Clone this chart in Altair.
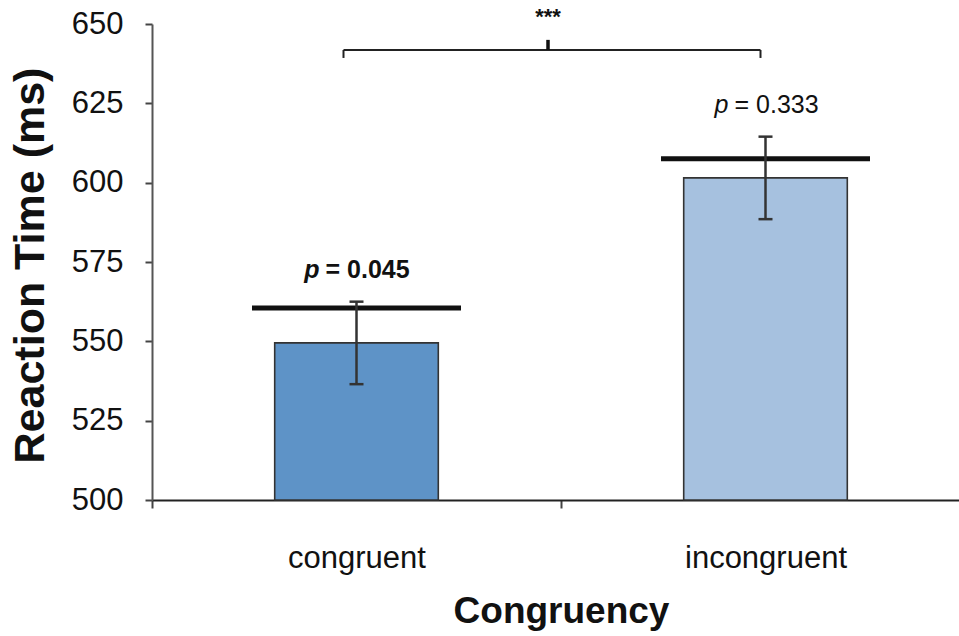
import altair as alt
import pandas as pd

# ---- data ----
categories = ["congruent", "incongruent"]
means = [549.5, 601.5]
err_low = [536.5, 588.5]
err_high = [562.5, 614.5]
ref_line = [560.5, 607.5]
p_values = ["= 0.045", "= 0.333"]
p_label_y = [572.5, 624.5]
p_weight = ["bold", "normal"]
bar_colors = ["#5e93c7", "#a6c1df"]
y_ticks = [500, 525, 550, 575, 600, 625, 650]
y_base = 500

bracket_y = 641.8
bracket_end_y = 639.3
bracket_mid_y = 645.0
stars_y = 652.3
stars = "***"

FONT = "Liberation Sans"

df = pd.DataFrame({
    "cat": categories,
    "mean": means,
    "lo": err_low,
    "hi": err_high,
    "ref": ref_line,
    "ptxt": p_values,
    "py": p_label_y,
    "pw": p_weight,
})

xscale = alt.Scale(domain=categories, range=[0, 818], paddingInner=0.6, paddingOuter=0.3)
yscale = alt.Scale(domain=[500, 650], nice=False, zero=False)

x_enc = alt.X(
    "cat:N", scale=xscale, sort=categories,
    axis=alt.Axis(
        title="Congruency", labelAngle=0, ticks=True, labelLimit=0,
        tickOffset=-204.5, labelOffset=204.5,
        labelFont=FONT, labelFontSize=31, labelColor="#111",
        labelBaseline="alphabetic", labelPadding=59,
        titleFont=FONT, titleFontSize=37, titleFontWeight="bold", titleColor="#111",
        titleX=409, titleY=122, titleBaseline="alphabetic", titleAlign="center",
        domainColor="#222", domainWidth=2, tickColor="#444", tickWidth=2, tickSize=8,
    ),
)
y_enc = alt.Y(
    "mean:Q", scale=yscale,
    axis=alt.Axis(
        title="Reaction Time (ms)", values=y_ticks, grid=False, ticks=True,
        labelFont=FONT, labelFontSize=31, labelColor="#111", labelPadding=22,
        titleFont=FONT, titleFontSize=43, titleFontWeight="bold", titleColor="#111",
        titleX=-122, titleY=241, titleAngle=-90, titleBaseline="middle", titleAlign="center",
        domainColor="#555", domainWidth=2, tickColor="#444", tickWidth=2, tickSize=7,
    ),
)

bars = alt.Chart(df).mark_bar(stroke="#333", strokeWidth=1.6, opacity=1).encode(
    x=x_enc,
    y=y_enc,
    y2=alt.datum(y_base),
    color=alt.Color("cat:N", scale=alt.Scale(domain=categories, range=bar_colors), legend=None),
)

ref = alt.Chart(df).mark_tick(color="#111", size=209, thickness=5, opacity=1).encode(
    x=alt.X("cat:N", scale=xscale), y=alt.Y("ref:Q", scale=yscale)
)

err = alt.Chart(df).mark_rule(color="#333", strokeWidth=2.5).encode(
    x=alt.X("cat:N", scale=xscale), y=alt.Y("lo:Q", scale=yscale), y2="hi:Q"
)
cap_lo = alt.Chart(df).mark_tick(color="#333", size=14, thickness=2.5, opacity=1).encode(
    x=alt.X("cat:N", scale=xscale), y=alt.Y("lo:Q", scale=yscale)
)
cap_hi = alt.Chart(df).mark_tick(color="#333", size=14, thickness=2.5, opacity=1).encode(
    x=alt.X("cat:N", scale=xscale), y=alt.Y("hi:Q", scale=yscale)
)

p_layers = []
for w in ["bold", "normal"]:
    p_layers.append(
        alt.Chart(df).transform_filter(alt.datum.pw == w).mark_text(
            text="p", font=FONT, fontSize=25, fontStyle="italic", fontWeight=w,
            align="right", dx=-37, baseline="middle", color="#111"
        ).encode(x=alt.X("cat:N", scale=xscale), y=alt.Y("py:Q", scale=yscale))
    )
    p_layers.append(
        alt.Chart(df).transform_filter(alt.datum.pw == w).mark_text(
            font=FONT, fontSize=25, fontWeight=w, align="left", dx=-31, baseline="middle", color="#111"
        ).encode(x=alt.X("cat:N", scale=xscale), y=alt.Y("py:Q", scale=yscale), text="ptxt:N")
    )

br = pd.DataFrame({"a": [categories[0]], "b": [categories[1]], "y": [bracket_y],
                   "ye": [bracket_end_y], "ym": [bracket_mid_y], "ys": [stars_y], "s": [stars]})

br_h = alt.Chart(br).mark_rule(color="#222", strokeWidth=2, xOffset=-13, x2Offset=-5).encode(
    x=alt.X("a:N", scale=xscale), x2="b:N", y=alt.Y("y:Q", scale=yscale)
)
br_l = alt.Chart(br).mark_rule(color="#222", strokeWidth=2, xOffset=-13).encode(
    x=alt.X("a:N", scale=xscale), y=alt.Y("y:Q", scale=yscale), y2="ye:Q"
)
br_r = alt.Chart(br).mark_rule(color="#222", strokeWidth=2, xOffset=-5).encode(
    x=alt.X("b:N", scale=xscale), y=alt.Y("y:Q", scale=yscale), y2="ye:Q"
)
br_m = alt.Chart(br).mark_rule(color="#111", strokeWidth=3.5, xOffset=191.5).encode(
    x=alt.X("a:N", scale=xscale), y=alt.Y("y:Q", scale=yscale), y2="ym:Q"
)
br_s = alt.Chart(br).mark_text(font=FONT, fontSize=22, fontWeight="bold", color="#111",
                               xOffset=191.5, baseline="middle").encode(
    x=alt.X("a:N", scale=xscale), y=alt.Y("ys:Q", scale=yscale), text="s:N"
)

chart = alt.layer(
    bars, ref, err, cap_lo, cap_hi, *p_layers, br_h, br_l, br_r, br_m, br_s
).properties(
    width=807, height=476,
    autosize=alt.AutoSizeParams(type="none"),
    padding={"left": 152, "top": 24, "right": 0, "bottom": 136},
    background="white",
).configure_view(stroke=None)

chart.save("out.html", embed_options={"renderer": "svg", "actions": False})
